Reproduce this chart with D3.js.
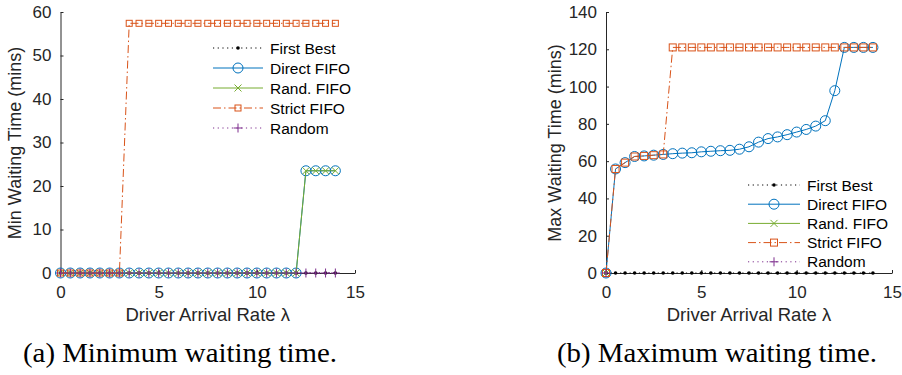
<!DOCTYPE html>
<html><head><meta charset="utf-8">
<script src="https://cdn.jsdelivr.net/npm/d3@7"></script>
<style>body{margin:0;background:#fff}svg{display:block}</style>
</head><body>
<svg id="c" width="902" height="375"></svg>
<script>
const lambda = [0,0.5,1,1.5,2,2.5,3,3.5,4,4.5,5,5.5,6,6.5,7,7.5,8,8.5,9,9.5,10,10.5,11,11.5,12,12.5,13,13.5,14];
const seriesNames = ["First Best","Direct FIFO","Rand. FIFO","Strict FIFO","Random"];
// Panel (a) minimum waiting time
const firstBestMin = [0,0,0,0,0,0,0,0,0,0,0,0,0,0,0,0,0,0,0,0,0,0,0,0,0,0,0,0,0];
const directFifoMin = [0,0,0,0,0,0,0,0,0,0,0,0,0,0,0,0,0,0,0,0,0,0,0,0,0,23.5,23.5,23.5,23.5];
const randFifoMin = [0,0,0,0,0,0,0,0,0,0,0,0,0,0,0,0,0,0,0,0,0,0,0,0,0,23.5,23.5,23.5,23.5];
const strictFifoMin = [0,0,0,0,0,0,0,57.4,57.4,57.4,57.4,57.4,57.4,57.4,57.4,57.4,57.4,57.4,57.4,57.4,57.4,57.4,57.4,57.4,57.4,57.4,57.4,57.4,57.4];
const randomMin = [0,0,0,0,0,0,0,0,0,0,0,0,0,0,0,0,0,0,0,0,0,0,0,0,0,0,0,0,0];
// Panel (b) maximum waiting time
const firstBestMax = [0,0,0,0,0,0,0,0,0,0,0,0,0,0,0,0,0,0,0,0,0,0,0,0,0,0,0,0,0];
const directFifoMax = [0,55.8,59.2,62.5,62.8,63.2,63.6,64.0,64.3,64.5,65.0,65.3,65.6,65.8,66.4,67.7,70.2,72.1,73.0,74.2,75.6,77.0,78.8,81.7,97.8,121,121,121,121];
const randFifoMax = [0,null,null,null,null,null,null,null,null,null,null,null,null,null,null,null,null,null,null,null,null,null,null,null,null,null,null,null,null];
const strictFifoMax = [0,55.8,59.2,62.5,62.8,63.2,63.6,121,121,121,121,121,121,121,121,121,121,121,121,121,121,121,121,121,121,121,121,121,121];
const randomMax = [0,null,null,null,null,null,null,null,null,null,null,null,null,null,null,null,null,null,null,null,null,null,null,null,null,null,null,null,null];
const xTicks = [0,5,10,15];
const yTicksMin = [0,10,20,30,40,50,60];
const yTicksMax = [0,20,40,60,80,100,120,140];
const xTitle = "Driver Arrival Rate \u03bb";
const captions = ["(a) Minimum waiting time.","(b) Maximum waiting time."];

const styles = [
  {color:"#000000", dash:"1.2,3.5", marker:"dot"},
  {color:"#0072BD", dash:null, marker:"circle"},
  {color:"#77AC30", dash:null, marker:"x"},
  {color:"#D95319", dash:"8,3,1.5,3", marker:"square"},
  {color:"#7E2F8E", dash:"1.2,3.5", marker:"plus"}
];

const svg = d3.select("#c");
const axisColor = "#262626";
const sans = "'Liberation Sans', Arial, Helvetica, sans-serif";

function drawMarker(g, type, x, y, color, sq){
  if(type==="dot"){
    g.append("circle").attr("cx",x).attr("cy",y).attr("r",1.8).attr("fill",color);
  } else if(type==="circle"){
    g.append("circle").attr("cx",x).attr("cy",y).attr("r",5).attr("fill","none").attr("stroke",color).attr("stroke-width",1);
  } else if(type==="x"){
    const s=3.5;
    g.append("path").attr("d",`M${x-s},${y-s}L${x+s},${y+s}M${x-s},${y+s}L${x+s},${y-s}`).attr("stroke",color).attr("stroke-width",1);
  } else if(type==="square"){
    const s=sq||3.3;
    g.append("rect").attr("x",x-s).attr("y",y-s).attr("width",2*s).attr("height",2*s).attr("fill","none").attr("stroke",color).attr("stroke-width",1);
  } else if(type==="plus"){
    const s=4.5;
    g.append("path").attr("d",`M${x-s},${y}L${x+s},${y}M${x},${y-s}L${x},${y+s}`).attr("stroke",color).attr("stroke-width",1);
  }
}

function panel(opts){
  const x = d3.scaleLinear().domain([0,15]).range([opts.x0, opts.x1]);
  const y = d3.scaleLinear().domain([0,opts.ymax]).range([273,12]);
  const g = svg.append("g");
  // axes
  const xa = g.append("g").attr("transform",`translate(0,${y(0)})`)
    .call(d3.axisBottom(x).tickValues(xTicks).tickSizeInner(-3).tickSizeOuter(0).tickPadding(9));
  const ya = g.append("g").attr("transform",`translate(${x(0)},0)`)
    .call(d3.axisLeft(y).tickValues(opts.yTicks).tickSizeInner(-3).tickSizeOuter(0).tickPadding(9));
  [xa,ya].forEach(a=>{
    a.select(".domain").attr("stroke",axisColor).attr("stroke-width",1);
    a.selectAll(".tick line").attr("stroke",axisColor);
    a.selectAll(".tick text").attr("fill",axisColor).attr("font-family",sans).attr("font-size","17px");
  });
  xa.selectAll(".tick text").attr("dy","0.92em");
  // titles
  g.append("text").attr("x",(opts.x0+opts.x1)/2).attr("y",321).attr("text-anchor","middle")
    .attr("font-family",sans).attr("font-size","18.5px").attr("fill",axisColor).text(xTitle);
  g.append("text").attr("transform",`translate(${opts.ytx},143) rotate(-90)`).attr("text-anchor","middle")
    .attr("dominant-baseline","central").attr("font-family",sans).attr("font-size","18px").attr("fill",axisColor).text(opts.ytitle);
  // series
  opts.data.forEach((vals,i)=>{
    const st = styles[i];
    const pts = lambda.map((l,j)=>[l,vals[j]]).filter(d=>d[1]!==null);
    const line = d3.line().x(d=>x(d[0])).y(d=>y(d[1]));
    g.append("path").attr("d",line(pts)).attr("fill","none").attr("stroke",st.color).attr("stroke-width",1)
      .attr("stroke-dasharray",st.dash);
    const mg = g.append("g");
    pts.forEach(d=>drawMarker(mg, st.marker, x(d[0]), y(d[1]), st.color, opts.sq));
  });
  // legend
  const lg = g.append("g");
  seriesNames.forEach((n,i)=>{
    const st = styles[i];
    const yy = opts.ly + i*opts.ldy;
    lg.append("line").attr("x1",opts.lx).attr("x2",opts.lx+opts.lw).attr("y1",yy).attr("y2",yy)
      .attr("stroke",st.color).attr("stroke-width",1).attr("stroke-dasharray",st.dash);
    drawMarker(lg, st.marker, opts.lx+opts.lw/2, yy, st.color, opts.sq);
    lg.append("text").attr("x",opts.lx+opts.lw+7).attr("y",yy).attr("dominant-baseline","central")
      .attr("font-family",sans).attr("font-size","15.5px").attr("fill","#000").text(n);
  });
  // caption
  svg.append("text").attr("x",opts.cx).attr("y",362).attr("text-anchor","middle")
    .attr("font-family","'Liberation Serif','Times New Roman',serif").attr("font-size","27px").attr("fill","#000")
    .attr("textLength",opts.cw).attr("lengthAdjust","spacingAndGlyphs").text(opts.caption);
}

panel({x0:60.5,x1:355,ymax:60,yTicks:yTicksMin,ytitle:"Min Waiting Time (mins)",ytx:15,
  data:[firstBestMin,directFifoMin,randFifoMin,strictFifoMin,randomMin],
  lx:213,lw:50,ly:48,ldy:20,sq:3,cx:180,cw:314,caption:captions[0]});
panel({x0:606,x1:892,ymax:140,yTicks:yTicksMax,ytitle:"Max Waiting Time (mins)",ytx:555,
  data:[firstBestMax,directFifoMax,randFifoMax,strictFifoMax,randomMax],
  lx:748,lw:52,ly:185,ldy:19.2,sq:3.5,cx:717,cw:320,caption:captions[1]});
</script>
</body></html>
